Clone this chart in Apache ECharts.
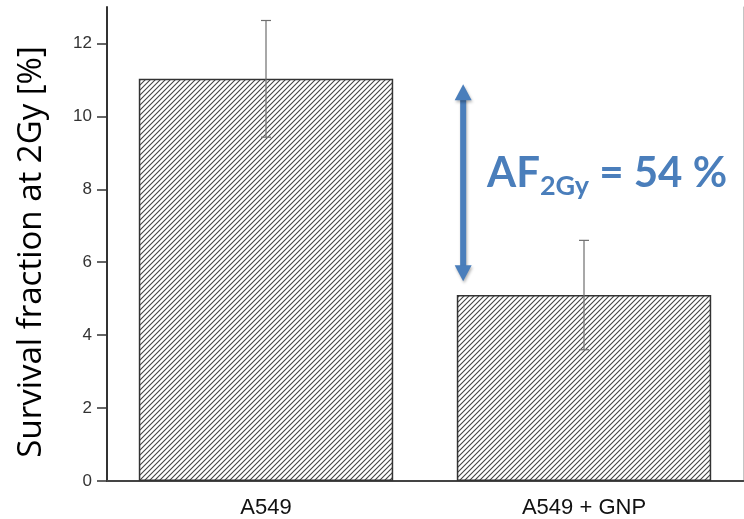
<!DOCTYPE html>
<html>
<head>
<meta charset="utf-8">
<style>
  html, body { margin: 0; padding: 0; background: #fff; }
  #chart { width: 744px; height: 519px; }
</style>
<script src="https://cdn.jsdelivr.net/npm/echarts@6/dist/echarts.min.js"></script>
</head>
<body>
<div id="chart"></div>
<script>
// Survival fraction at 2 Gy, mean ± error
const categories = ['A549', 'A549 + GNP'];
const survival = [11.03, 5.1];
const errors = [1.6, 1.5];
const yTicks = [0, 2, 4, 6, 8, 10, 12];
// Span of the amplification-factor arrow (survival %)
const arrowSpan = [10.88, 5.48];
const afText = { main: 'AF', sub: '2Gy', rest: ' = 54 %' };
const yTitle = 'Survival fraction at 2Gy [%]';

// Diagonal hatch tile used as bar fill
function hatchTile() {
  const s = 5;
  const c = document.createElement('canvas');
  c.width = s; c.height = s;
  const g = c.getContext('2d');
  g.fillStyle = '#fff';
  g.fillRect(0, 0, s, s);
  g.strokeStyle = '#444';
  g.lineWidth = 1.1;
  g.beginPath();
  g.moveTo(-1, s + 1); g.lineTo(s + 1, -1);
  g.moveTo(-1, 1); g.lineTo(1, -1);
  g.moveTo(s - 1, s + 1); g.lineTo(s + 1, s - 1);
  g.stroke();
  return c;
}

const blue = '#4A7EBB';
const chart = echarts.init(document.getElementById('chart'));

chart.setOption({
  animation: false,
  grid: { left: 107, top: 7, width: 636, height: 474, show: false },
  xAxis: [{
    type: 'category',
    data: categories,
    axisLine: { show: true, lineStyle: { color: '#333', width: 2 } },
    axisTick: { show: false },
    axisLabel: { color: '#111', fontFamily: 'Liberation Sans', fontSize: 22, margin: 16 }
  }, {
    type: 'category',
    position: 'top',
    data: categories,
    axisLine: { show: true, lineStyle: { color: '#444', width: 2 } },
    axisTick: { show: false },
    axisLabel: { show: false }
  }],
  yAxis: [{
    type: 'value',
    min: 0, max: 13,
    splitLine: { show: false },
    axisLine: { show: true, lineStyle: { color: '#333', width: 2 } },
    axisTick: { show: true, length: 10, lineStyle: { color: '#333', width: 1.5 }, customValues: yTicks },
    axisLabel: { color: '#333', fontFamily: 'Liberation Sans', fontSize: 17, margin: 15, customValues: yTicks }
  }, {
    type: 'value',
    position: 'right',
    min: 0, max: 13,
    splitLine: { show: false },
    axisLine: { show: true, lineStyle: { color: '#c4c4c4', width: 1 } },
    axisTick: { show: false },
    axisLabel: { show: false }
  }],
  series: [{
    type: 'bar',
    data: survival,
    barCategoryGap: '20%',
    itemStyle: {
      color: { image: hatchTile(), repeat: 'repeat' },
      borderColor: '#333',
      borderWidth: 1.5
    },
    z: 2
  }, {
    // error bars
    type: 'custom',
    z: 3,
    data: survival.map((v, i) => [i, v - errors[i], v + errors[i]]),
    renderItem: function (params, api) {
      const lo = api.coord([api.value(0), api.value(1)]);
      const hi = api.coord([api.value(0), api.value(2)]);
      const cap = 5;
      const style = { stroke: '#6e6e6e', lineWidth: 1.2 };
      return {
        type: 'group',
        children: [
          { type: 'line', shape: { x1: lo[0], y1: lo[1], x2: hi[0], y2: hi[1] }, style },
          { type: 'line', shape: { x1: hi[0] - cap, y1: hi[1], x2: hi[0] + cap, y2: hi[1] }, style },
          { type: 'line', shape: { x1: lo[0] - cap, y1: lo[1], x2: lo[0] + cap, y2: lo[1] }, style }
        ]
      };
    }
  }, {
    // double-headed arrow between the two survival levels
    type: 'custom',
    z: 4,
    data: [[1, arrowSpan[0], arrowSpan[1]]],
    renderItem: function (params, api) {
      const band = api.size([1, 0])[0];
      const top = api.coord([api.value(0), api.value(1)]);
      const bot = api.coord([api.value(0), api.value(2)]);
      const x = top[0] - band * 0.38;
      const headL = 16, headW = 8.5;
      const shadow = { shadowBlur: 3, shadowColor: 'rgba(0,0,0,0.3)', shadowOffsetX: 1, shadowOffsetY: 2 };
      return {
        type: 'group',
        children: [
          { type: 'line', shape: { x1: x, y1: top[1] + headL - 2, x2: x, y2: bot[1] - headL + 2 },
            style: Object.assign({ stroke: blue, lineWidth: 6 }, shadow) },
          { type: 'polygon', shape: { points: [[x, top[1]], [x - headW, top[1] + headL], [x + headW, top[1] + headL]] },
            style: Object.assign({ fill: blue }, shadow) },
          { type: 'polygon', shape: { points: [[x, bot[1]], [x - headW, bot[1] - headL], [x + headW, bot[1] - headL]] },
            style: Object.assign({ fill: blue }, shadow) }
        ]
      };
    }
  }],
  graphic: [{
    type: 'text',
    x: 32,
    y: 252,
    rotation: Math.PI / 2,
    style: {
      text: yTitle,
      fill: '#000',
      fontFamily: 'Open Sans',
      fontSize: 33,
      align: 'center',
      verticalAlign: 'middle'
    }
  }, {
    type: 'text',
    left: 487,
    top: 152,
    style: {
      text: '{m|' + afText.main + '}{s|' + afText.sub + '}{m|' + afText.rest + '}',
      rich: {
        m: { fontFamily: 'Lato', fontWeight: 'bold', fontSize: 42, lineHeight: 54, fill: blue },
        s: { fontFamily: 'Lato', fontWeight: 'bold', fontSize: 27, lineHeight: 4, verticalAlign: 'bottom', fill: blue }
      }
    }
  }]
});
</script>
</body>
</html>
